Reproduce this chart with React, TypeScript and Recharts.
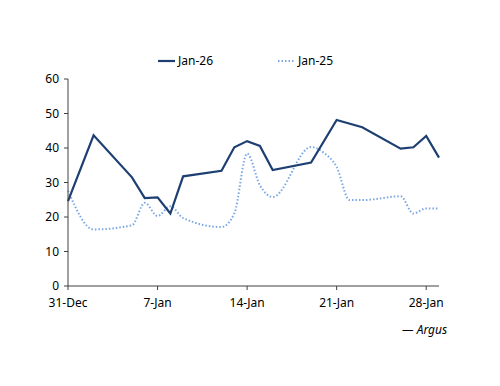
import { Line, LineChart, XAxis, YAxis } from "recharts";

// day offset from 31-Dec
const days = [0, 2, 5, 6, 7, 8, 9, 12, 13, 14, 15, 16, 19, 20, 21, 22, 23, 26, 27, 28, 29];
const jan26 = [24.6, 43.7, 31.5, 25.5, 25.7, 21.0, 31.8, 33.4, 40.2, 42.0, 40.6, 33.6, 35.8, null, 48.1, null, 46.0, 39.8, 40.2, 43.5, 37.2];
const jan25 = [27.6, 16.4, 17.6, 24.1, 20.3, 23.1, 19.7, 17.1, 21.0, 38.4, 29.2, 25.8, 40.3, 38.6, 34.5, 24.9, 24.9, 26.0, 21.0, 22.5, 22.5];

const xTicks = [0, 7, 14, 21, 28];
const xTickLabels = ["31-Dec", "7-Jan", "14-Jan", "21-Jan", "28-Jan"];
const yTicks = [0, 10, 20, 30, 40, 50, 60];

const NAVY = "#1d3f72";
const LIGHT = "#7aa7e3";
const AXIS = "#404040";
const FONT = "'Noto Sans', sans-serif";

const rows = days.map((day, i) => ({ day, jan26: jan26[i], jan25: jan25[i] }));

export default function App() {
  return (
    <div style={{ position: "relative", width: 500, height: 386, margin: -8, background: "#fff", fontFamily: FONT }}>
      <LineChart width={500} height={386} data={rows} margin={{ top: 79, right: 61, bottom: 70, left: 8 }}>
        <XAxis
          dataKey="day"
          type="number"
          domain={[0, 29]}
          ticks={xTicks}
          tickFormatter={(v) => xTickLabels[xTicks.indexOf(v)]}
          height={30}
          stroke={AXIS}
          tickSize={4}
          tickMargin={8}
          tick={{ fill: "#000", fontSize: 12, fontFamily: FONT }}
        />
        <YAxis
          domain={[0, 60]}
          ticks={yTicks}
          width={60}
          stroke={AXIS}
          tickSize={4}
          tickMargin={5}
          tick={{ fill: "#000", fontSize: 12, fontFamily: FONT }}
        />
        <Line
          dataKey="jan25"
          type="monotone"
          stroke={LIGHT}
          strokeWidth={2}
          strokeDasharray="1.5 2"
          dot={false}
          connectNulls
          isAnimationActive={false}
        />
        <Line
          dataKey="jan26"
          type="linear"
          stroke={NAVY}
          strokeWidth={2.2}
          dot={false}
          connectNulls
          isAnimationActive={false}
        />
      </LineChart>

      <div style={{ position: "absolute", top: 52, left: 158, display: "flex", alignItems: "center", fontSize: 12 }}>
        <svg width={18} height={4}>
          <line x1={0} y1={2} x2={17} y2={2} stroke={NAVY} strokeWidth={2.2} />
        </svg>
        <span style={{ marginLeft: 2 }}>Jan-26</span>
      </div>
      <div style={{ position: "absolute", top: 52, left: 278, display: "flex", alignItems: "center", fontSize: 12 }}>
        <svg width={18} height={4}>
          <line x1={0} y1={2} x2={17} y2={2} stroke={LIGHT} strokeWidth={2} strokeDasharray="1.5 2" />
        </svg>
        <span style={{ marginLeft: 2 }}>Jan-25</span>
      </div>
      <div style={{ position: "absolute", top: 321, left: 402, fontSize: 12, fontStyle: "italic" }}>— Argus</div>
    </div>
  );
}
